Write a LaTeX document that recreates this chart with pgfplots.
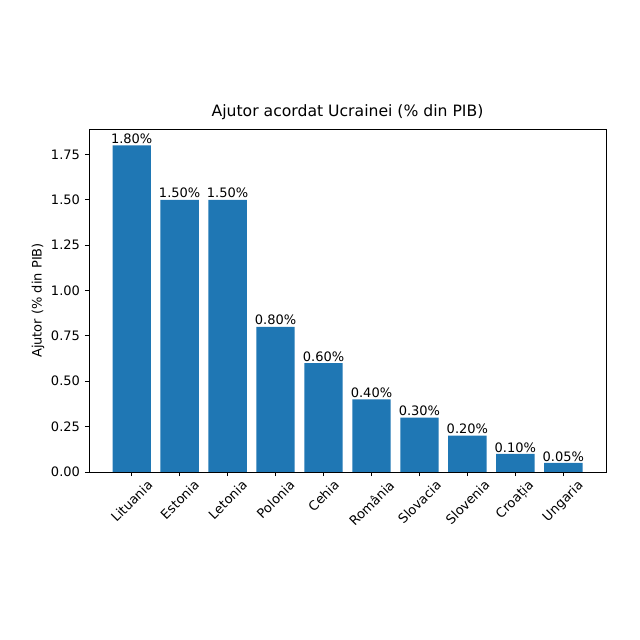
\documentclass[border=0pt]{standalone}
\usepackage{pgfplots}
\pgfplotsset{compat=1.18}
\usepackage{fontspec}
\setmainfont{DejaVu Sans}
\definecolor{mplblue}{HTML}{1F77B4}
\begin{document}
\begin{tikzpicture}
\path[use as bounding box] (0,0) rectangle (6.4in,6.4in);
\begin{axis}[
  at={(0.89in,1.68in)}, anchor=south west,
  scale only axis, width=5.17in, height=3.43in,
  xmin=-0.89, xmax=9.89, ymin=0, ymax=1.89,
  xtick={0,...,9},
  xticklabels={\rotatebox{45}{Lituania},\rotatebox{45}{Estonia},\rotatebox{45}{Letonia},\rotatebox{45}{Polonia},\rotatebox{45}{Cehia},\rotatebox{45}{România},\rotatebox{45}{Slovacia},\rotatebox{45}{Slovenia},\rotatebox{45}{Croația},\rotatebox{45}{Ungaria}},
  ytick={0,0.25,0.5,0.75,1,1.25,1.5,1.75},
  yticklabel style={/pgf/number format/.cd,fixed,fixed zerofill,precision=2},
  /pgf/number format/assume math mode=true,
  tick label style={font=\fontsize{9.4pt}{11pt}\selectfont},
  xticklabel style={inner sep=2pt},
  tick align=outside, tick pos=left,
  every tick/.style={black,line width=0.6pt},
  major tick length=3pt,
  title={Ajutor acordat Ucrainei (\% din PIB)},
  title style={font=\fontsize{11.3pt}{13pt}\selectfont, yshift=-3pt},
  ylabel={Ajutor (\% din PIB)},
  ylabel style={font=\fontsize{9.4pt}{11pt}\selectfont, yshift=-2pt},
  axis line style={line width=0.6pt},
  ybar, bar width=0.8, bar shift=0pt,
  nodes near coords={\pgfmathprintnumber[fixed,fixed zerofill,precision=2,assume math mode=true]{\pgfplotspointmeta}\%},
  nodes near coords style={font=\fontsize{9.4pt}{11pt}\selectfont, inner sep=1pt},
]
\addplot[fill=mplblue, draw=none] coordinates {
(0,1.80) (1,1.50) (2,1.50) (3,0.80) (4,0.60) (5,0.40) (6,0.30) (7,0.20) (8,0.10) (9,0.05)};
\end{axis}
\end{tikzpicture}
\end{document}
